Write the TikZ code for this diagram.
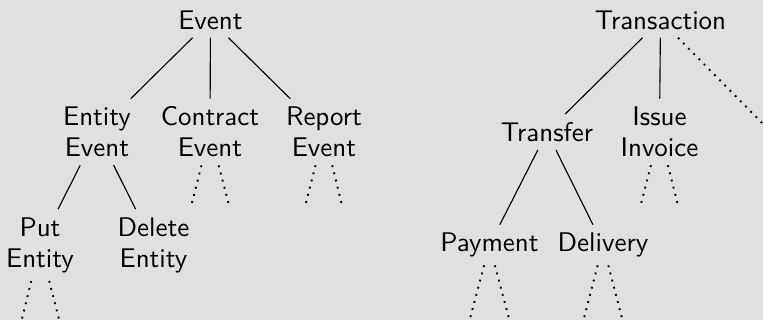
\documentclass[tikz,border=0pt]{standalone}
\definecolor{bgc}{RGB}{224,224,224}
\tikzset{
  lbl/.style={align=center, inner sep=3.1pt, font=\sffamily\fontsize{10.8}{12.4}\selectfont},
  edge/.style={draw, line width=0.45pt},
  open/.style={draw, line width=0.75pt, dash pattern=on 0.75pt off 2.2pt}
}
\begin{document}
\begin{tikzpicture}[x=0.4pt, y=-0.4pt]
  \useasboundingbox (0,0) rectangle (763,320);
  \clip (0,0) rectangle (763,320);
  \fill[bgc] (0,0) rectangle (763,320);

  % event hierarchy
  \node[lbl] (ev)  at (210.5,20)  {Event};
  \node[lbl] (ent) at (97,132)    {Entity\\Event};
  \node[lbl] (con) at (210,132)   {Contract\\Event};
  \node[lbl] (rep) at (324,132)   {Report\\Event};
  \node[lbl] (put) at (40,245)    {Put\\Entity};
  \node[lbl] (del) at (153.5,245) {Delete\\Entity};

  % transaction hierarchy
  \node[lbl] (tr)  at (660.5,20)  {Transaction};
  \node[lbl] (tf)  at (547,132)   {Transfer};
  \node[lbl] (inv) at (659.5,132) {Issue\\Invoice};
  \node[lbl] (pay) at (489.5,245) {Payment};
  \node[lbl] (dlv) at (603,245)   {Delivery};

  % ends of the branches left open
  \coordinate (con-l) at (191.7,204);
  \coordinate (con-r) at (228.7,204);
  \coordinate (rep-l) at (305.7,204);
  \coordinate (rep-r) at (341.7,204);
  \coordinate (inv-l) at (641,204);
  \coordinate (inv-r) at (677.7,204);
  \coordinate (put-l) at (20.5,325);
  \coordinate (put-r) at (60.5,325);
  \coordinate (pay-l) at (468.3,325);
  \coordinate (pay-r) at (510.7,325);
  \coordinate (dlv-l) at (582.2,325);
  \coordinate (dlv-r) at (623.8,325);
  \coordinate (tr-r)  at (771,132);

  % solid edges
  \path[edge] (ev) -- (ent);
  \path[edge] (ev) -- (con);
  \path[edge] (ev) -- (rep);
  \path[edge] (ent) -- (put);
  \path[edge] (ent) -- (del);
  \path[edge] (tr) -- (tf);
  \path[edge] (tr) -- (inv);
  \path[edge] (tf) -- (pay);
  \path[edge] (tf) -- (dlv);

  % dotted edges
  \path[open] (con) -- (con-l);
  \path[open] (con) -- (con-r);
  \path[open] (rep) -- (rep-l);
  \path[open] (rep) -- (rep-r);
  \path[open] (inv) -- (inv-l);
  \path[open] (inv) -- (inv-r);
  \path[open] (put) -- (put-l);
  \path[open] (put) -- (put-r);
  \path[open] (pay) -- (pay-l);
  \path[open] (pay) -- (pay-r);
  \path[open] (dlv) -- (dlv-l);
  \path[open] (dlv) -- (dlv-r);
  \path[open] (tr) -- (tr-r);
\end{tikzpicture}
\end{document}
